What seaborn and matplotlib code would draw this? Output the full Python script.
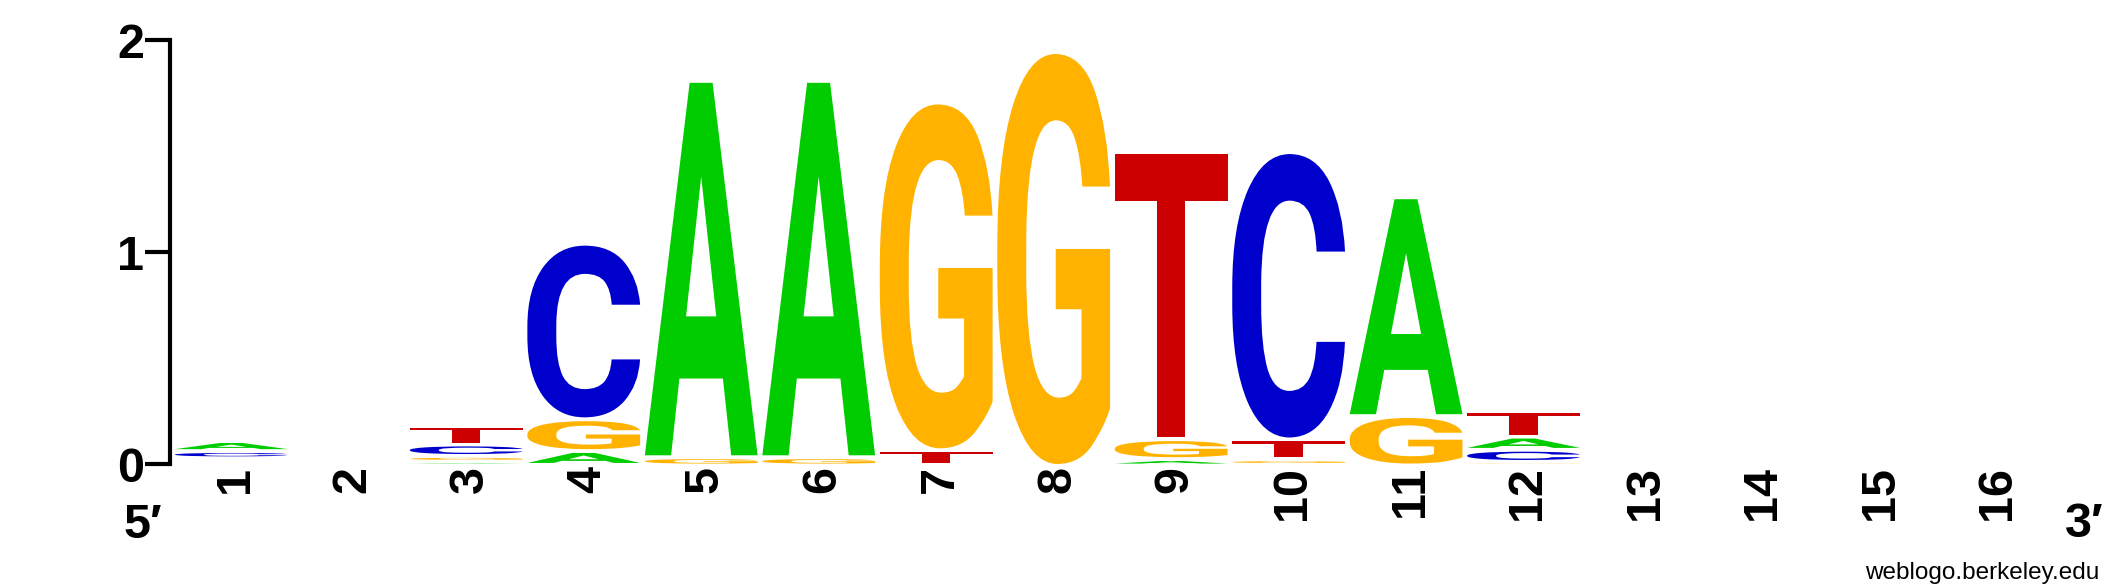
import numpy as np
import pandas as pd
import matplotlib
matplotlib.use("Agg")
import matplotlib.pyplot as plt
import seaborn as sns
from matplotlib.textpath import TextPath
from matplotlib.font_manager import FontProperties
from matplotlib.patches import PathPatch
from matplotlib.transforms import Affine2D, ScaledTranslation

# ---------------- data (bits per letter at each position) ----------------
positions = list(range(1, 17))
bits_A = [0.047, 0.0, 0.020, 0.065, 1.775, 1.775, 0.002, 0.0, 0.030, 0.005, 1.032, 0.062, 0, 0, 0, 0]
bits_C = [0.034, 0.0, 0.054, 0.828, 0.001, 0.001, 0.002, 0.0, 0.002, 1.355, 0.001, 0.057, 0, 0, 0, 0]
bits_G = [0.018, 0.0, 0.027, 0.150, 0.039, 0.039, 1.640, 1.952, 0.094, 0.026, 0.233, 0.019, 0, 0, 0, 0]
bits_T = [0.018, 0.0, 0.089, 0.005, 0.001, 0.001, 0.070, 0.0, 1.354, 0.094, 0.001, 0.122, 0, 0, 0, 0]
letters = ["A", "C", "G", "T"]
letter_colors = {"A": "#00CC00", "C": "#0000CC", "G": "#FFB300", "T": "#CC0000"}
y_ticks = [0, 1, 2]
left_end_label = "5\u2032"
right_end_label = "3\u2032"
credit = "weblogo.berkeley.edu"

df = pd.DataFrame({
    "position": np.repeat(positions, 4),
    "letter": letters * len(positions),
    "bits": np.ravel(np.column_stack([bits_A, bits_C, bits_G, bits_T])),
})

# ---------------- style ----------------
sns.set_theme(style="ticks")
plt.rcParams["font.family"] = ["Liberation Sans", "DejaVu Sans"]

W, H = 2125, 588
fig = plt.figure(figsize=(W / 100, H / 100), dpi=100)
ax = fig.add_axes([170 / W, 124 / H, (2064 - 170) / W, 424 / H])
ax.set_xlim(0.478, 16.6)
ax.set_ylim(0, 2)

# ---------------- letters ----------------
fp = FontProperties(family="Roboto", weight="bold")
glyph_paths = {}
for L in letters:
    p = TextPath((0, 0), L, size=1, prop=fp)
    glyph_paths[L] = (p, p.get_extents())

letter_width = 0.96
gap = 0.018
for pos, grp in df.groupby("position"):
    grp = grp.sort_values("bits", kind="stable")
    bottom = 0.0
    for _, row in grp.iterrows():
        h = row["bits"]
        gh = h - gap
        if gh > 0.0005:
            path, ext = glyph_paths[row["letter"]]
            tr = (Affine2D()
                  .translate(-ext.x0, -ext.y0)
                  .scale(letter_width / ext.width, gh / ext.height)
                  .translate(pos - letter_width / 2, bottom)) + ax.transData
            ax.add_patch(PathPatch(path, transform=tr, facecolor=letter_colors[row["letter"]],
                                   edgecolor="none", lw=0))
        bottom += h

# ---------------- axes ----------------
sns.despine(ax=ax, top=True, right=True, bottom=True, left=False)
ax.spines["left"].set_color("black")
ax.spines["left"].set_linewidth(3)
ax.set_yticks(y_ticks)
ax.set_yticklabels([str(t) for t in y_ticks], fontsize=35, fontweight="bold")
ax.tick_params(axis="y", length=18, width=3, direction="out", pad=0.8, colors="black")

ax.set_xticks(positions)
ax.set_xticklabels([str(p) for p in positions], rotation=90, fontsize=35,
                   fontweight="bold", va="top", ha="center")
ax.tick_params(axis="x", length=0, pad=1.5, colors="black")
offset = ScaledTranslation(4 / 100, 0, fig.dpi_scale_trans)
for lab in ax.get_xticklabels():
    lab.set_transform(lab.get_transform() + offset)

ax.set_xlabel("")
ax.set_ylabel("")
ax.grid(False)

fig.text(124 / W, 50 / H, left_end_label, fontsize=35, fontweight="bold",
         ha="left", va="baseline", color="black")
fig.text(2104 / W, 51 / H, right_end_label, fontsize=35, fontweight="bold",
         ha="right", va="baseline", color="black")
fig.text(2099 / W, 9 / H, credit, fontsize=17.5, ha="right", va="baseline", color="black")

fig.savefig("out.png", dpi=100, facecolor="white")
